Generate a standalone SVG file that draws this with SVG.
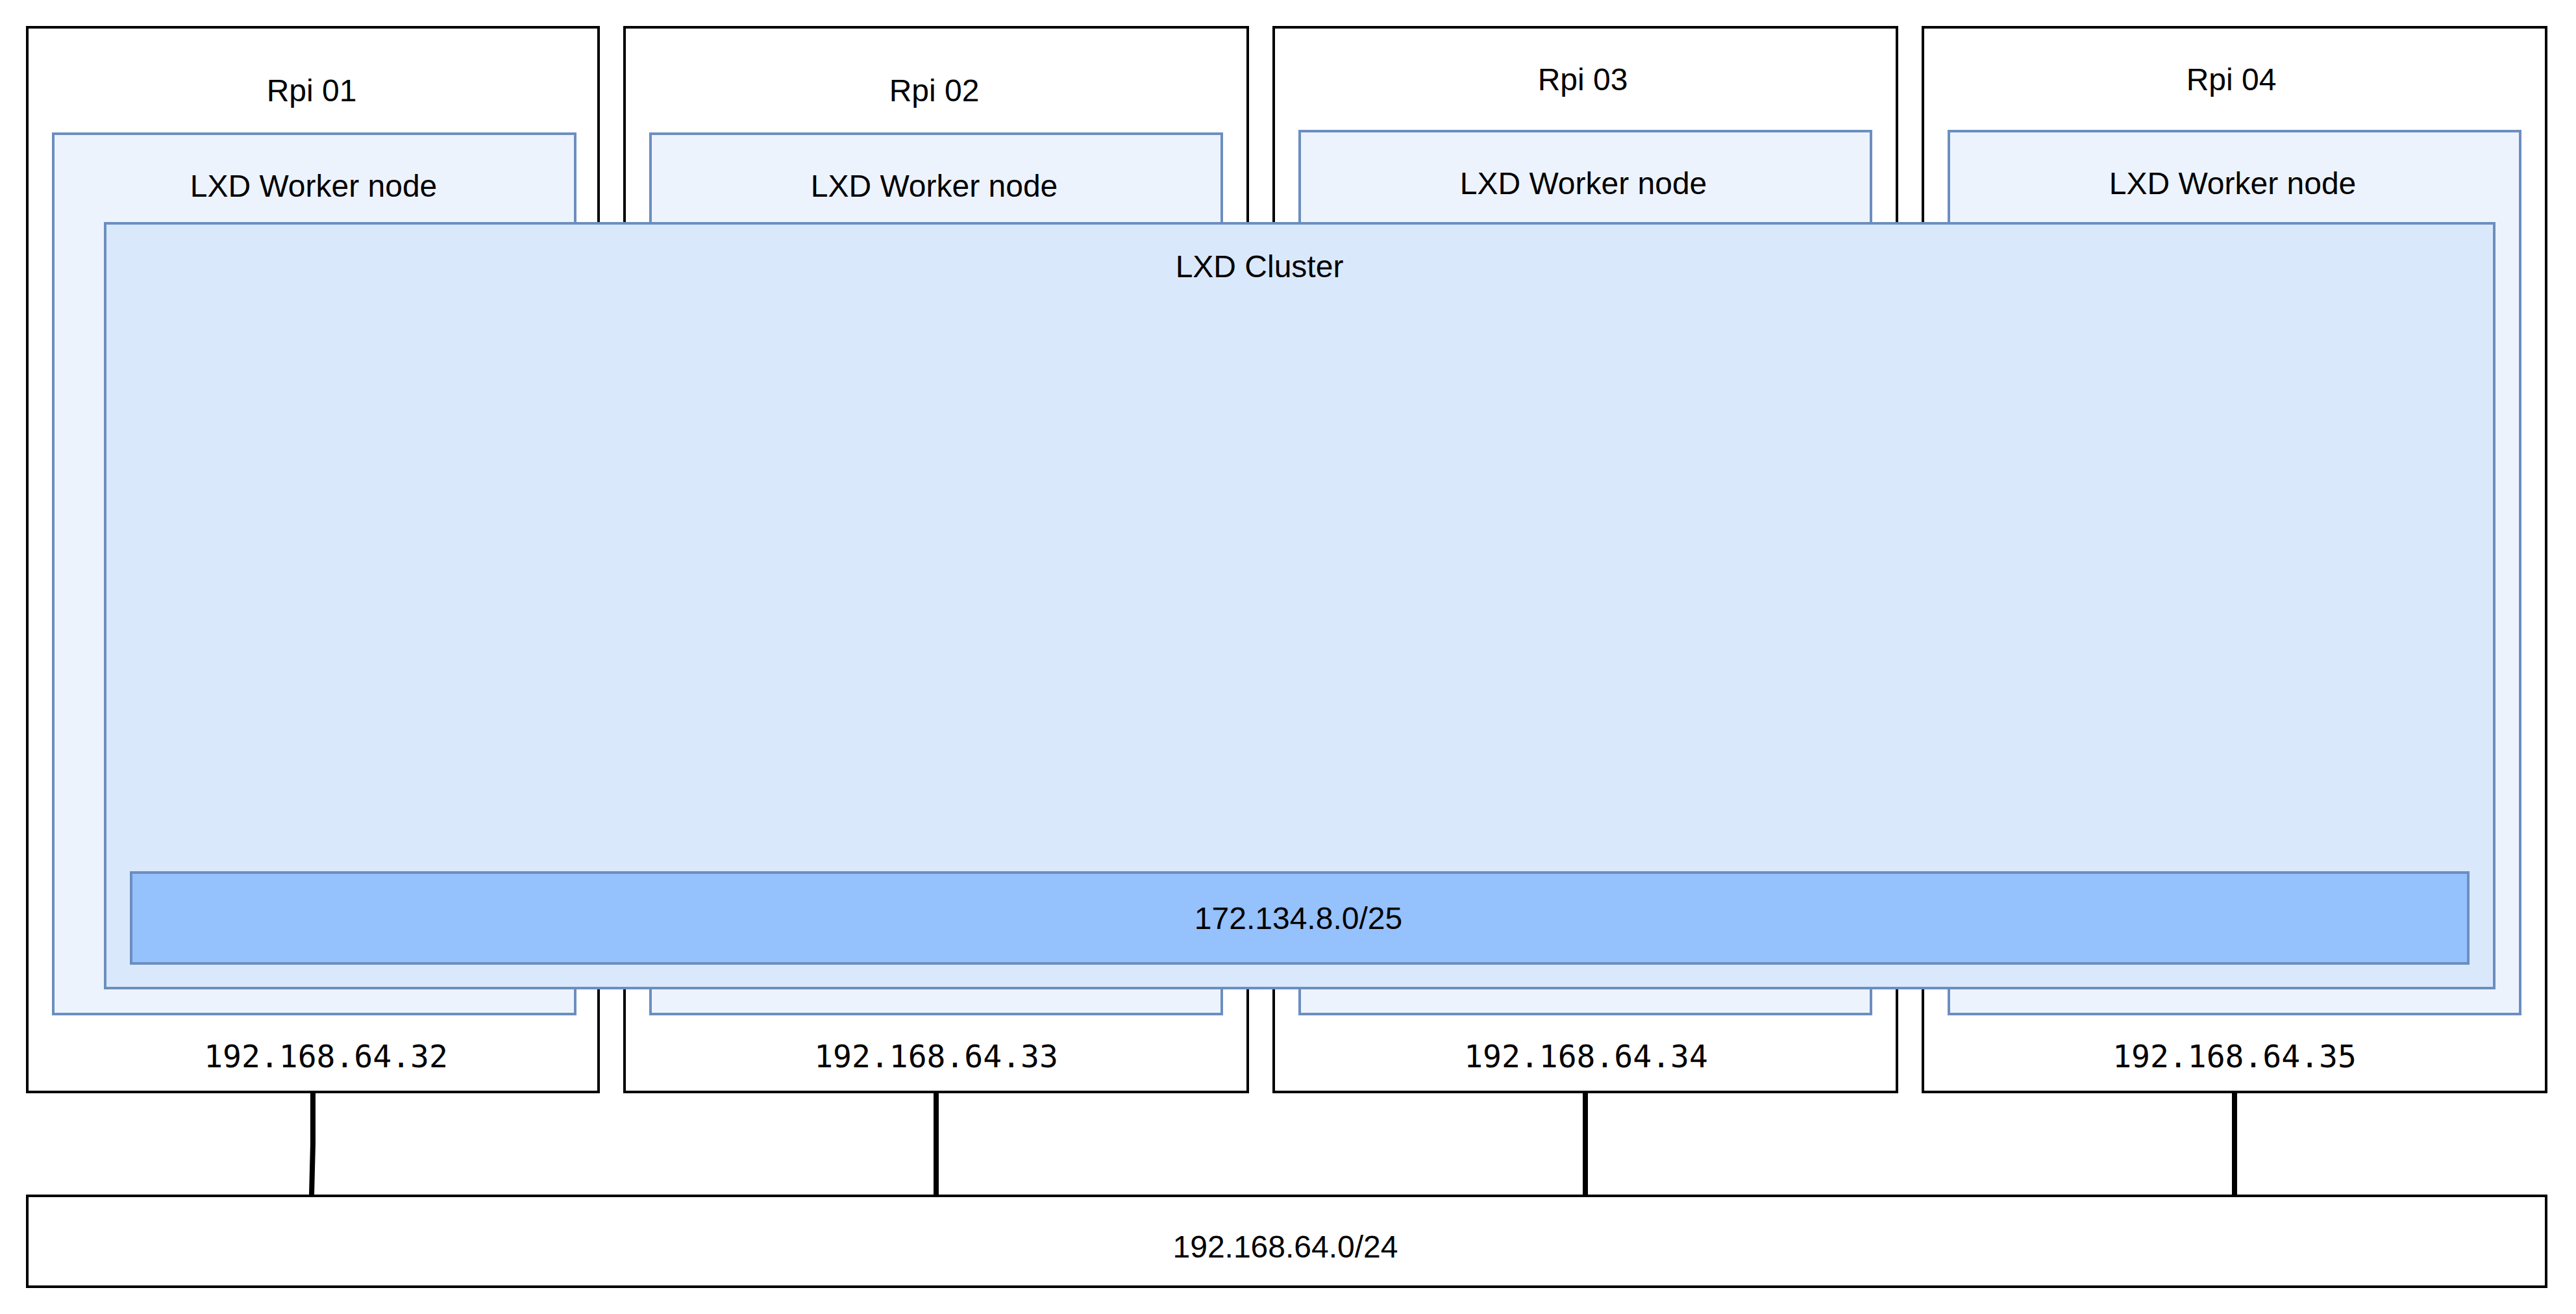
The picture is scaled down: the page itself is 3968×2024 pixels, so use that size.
<svg xmlns="http://www.w3.org/2000/svg" width="3968" height="2024" viewBox="0 0 3968 2024">
<style>
.host{fill:#ffffff;stroke:#000000;stroke-width:4}
.worker{fill:#edf3fd;stroke:#6c8ebf;stroke-width:4}
.cluster{fill:#dae8fc;stroke:#6c8ebf;stroke-width:4}
.subnet{fill:#95c1fd;stroke:#6c8ebf;stroke-width:4}
.lbl{font-family:"Liberation Sans",Arial,Helvetica,sans-serif;font-size:48px;fill:#000000;text-anchor:middle}
.ip{font-family:"DejaVu Sans Mono","Liberation Mono",monospace;font-size:48px;fill:#000000;text-anchor:middle}
.link{fill:none;stroke:#000000;stroke-width:8}
</style>
<rect x="0" y="0" width="3968" height="2024" fill="#ffffff"/>
<g id="rpi01">
<rect class="host" x="42" y="42" width="880" height="1640"/>
<text class="lbl" x="480" y="156">Rpi 01</text>
<text class="ip" x="502" y="1644">192.168.64.32</text>
</g>
<g id="rpi02">
<rect class="host" x="962" y="42" width="960" height="1640"/>
<text class="lbl" x="1439" y="156">Rpi 02</text>
<text class="ip" x="1442" y="1644">192.168.64.33</text>
</g>
<g id="rpi03">
<rect class="host" x="1962" y="42" width="960" height="1640"/>
<text class="lbl" x="2438" y="139">Rpi 03</text>
<text class="ip" x="2443" y="1644">192.168.64.34</text>
</g>
<g id="rpi04">
<rect class="host" x="2962" y="42" width="960" height="1640"/>
<text class="lbl" x="3437" y="139">Rpi 04</text>
<text class="ip" x="3442" y="1644">192.168.64.35</text>
</g>
<g id="worker01">
<rect class="worker" x="82" y="206" width="804" height="1356"/>
<text class="lbl" x="483" y="303">LXD Worker node</text>
</g>
<g id="worker02">
<rect class="worker" x="1002" y="206" width="880" height="1356"/>
<text class="lbl" x="1439" y="303">LXD Worker node</text>
</g>
<g id="worker03">
<rect class="worker" x="2002" y="202" width="880" height="1360"/>
<text class="lbl" x="2439" y="299">LXD Worker node</text>
</g>
<g id="worker04">
<rect class="worker" x="3002" y="202" width="880" height="1360"/>
<text class="lbl" x="3439" y="299">LXD Worker node</text>
</g>
<g id="cluster">
<rect class="cluster" x="162" y="344" width="3680" height="1178"/>
<text class="lbl" x="1940" y="427">LXD Cluster</text>
</g>
<g id="subnet">
<rect class="subnet" x="202" y="1344" width="3600" height="140"/>
<text class="lbl" x="2000" y="1431">172.134.8.0/25</text>
</g>
<g id="network">
<rect class="host" x="42" y="1842" width="3880" height="140"/>
<text class="lbl" x="1980" y="1937">192.168.64.0/24</text>
</g>
<g id="connectors">
<path class="link" d="M482 1684 L482 1762 L480 1842"/>
<path class="link" d="M1442 1684 L1442 1844"/>
<path class="link" d="M2442 1684 L2442 1842"/>
<path class="link" d="M3442 1684 L3442 1842"/>
</g>
</svg>
